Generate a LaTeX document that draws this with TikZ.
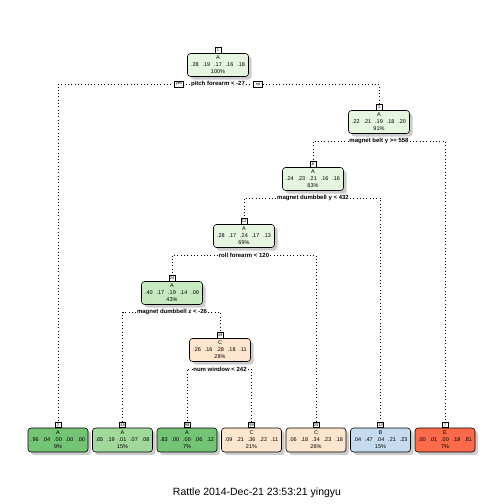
\documentclass[tikz,border=0pt]{standalone}
\usepackage{fontspec}
\setmainfont{Liberation Sans}
\usetikzlibrary{shadows}
\definecolor{greenPale}{HTML}{E5F5E0}
\definecolor{greenLight}{HTML}{C7E9C0}
\definecolor{greenMid}{HTML}{A1D99B}
\definecolor{greenDark}{HTML}{74C476}
\definecolor{peach}{HTML}{FEE6CE}
\definecolor{blueLight}{HTML}{C6DBEF}
\definecolor{redE}{HTML}{FB6A4A}
\newcommand{\probs}[5]{#1\hspace{3.9pt}#2\hspace{3.9pt}#3\hspace{3.9pt}#4\hspace{3.9pt}#5}
\begin{document}
\begin{tikzpicture}
  [x=1pt,y=-1pt,
   split/.style={rectangle,rounded corners=3pt,draw=black,semithick,align=center,
                 minimum width=61pt,minimum height=23pt,inner sep=0pt,
                 font=\fontsize{5.5}{7}\selectfont,
                 drop shadow={shadow xshift=3pt,shadow yshift=-3pt,fill=black!40}},
   leaf/.style={split,minimum width=60pt,minimum height=24pt},
   nodenum/.style={rectangle,draw=black,fill=white,thin,inner sep=0.4pt,
                   minimum width=6pt,minimum height=5.5pt,anchor=south,
                   font=\fontsize{4}{4}\selectfont},
   yesno/.style={nodenum,anchor=center,minimum width=9pt},
   rule/.style={inner sep=1pt,font=\bfseries\fontsize{6}{6}\selectfont},
   branch/.style={line width=0.7pt,dash pattern=on 0.7pt off 2.6pt}]
  \useasboundingbox (0,0) rectangle (504,504);
  % inner nodes
  \node[split,fill=greenPale] (n1) at (218,65) {A\\\probs{.28}{.19}{.17}{.16}{.18}\\100\%};
  \node[split,fill=greenPale] (n3) at (379,122) {A\\\probs{.22}{.21}{.19}{.18}{.20}\\91\%};
  \node[split,fill=greenPale] (n6) at (313,179) {A\\\probs{.24}{.23}{.21}{.16}{.16}\\83\%};
  \node[split,fill=greenPale] (n12) at (244,236) {A\\\probs{.28}{.17}{.24}{.17}{.13}\\69\%};
  \node[split,fill=greenLight] (n24) at (172,293) {A\\\probs{.40}{.17}{.19}{.14}{.09}\\43\%};
  \node[split,fill=peach] (n49) at (220,350) {C\\\probs{.26}{.16}{.28}{.18}{.11}\\28\%};
  % leaves
  \node[leaf,fill=greenDark] (n2) at (58,440) {A\\\probs{.96}{.04}{.00}{.00}{.00}\\9\%};
  \node[leaf,fill=greenMid] (n48) at (122.5,440) {A\\\probs{.65}{.19}{.01}{.07}{.08}\\15\%};
  \node[leaf,fill=greenDark] (n98) at (187,440) {A\\\probs{.83}{.00}{.00}{.06}{.12}\\7\%};
  \node[leaf,fill=peach] (n99) at (251.5,440) {C\\\probs{.09}{.21}{.36}{.22}{.11}\\21\%};
  \node[leaf,fill=peach] (n25) at (316,440) {C\\\probs{.06}{.18}{.34}{.23}{.18}\\26\%};
  \node[leaf,fill=blueLight] (n13) at (380.5,440) {B\\\probs{.04}{.47}{.04}{.21}{.23}\\15\%};
  \node[leaf,fill=redE] (n7) at (445,440) {E\\\probs{.00}{.01}{.00}{.18}{.81}\\7\%};
  % node numbers
  \node[nodenum] (k1) at (n1.north) {1};
  \node[nodenum] (k2) at (n2.north) {2};
  \node[nodenum] (k3) at (n3.north) {3};
  \node[nodenum] (k6) at (n6.north) {6};
  \node[nodenum] (k7) at (n7.north) {7};
  \node[nodenum] (k12) at (n12.north) {12};
  \node[nodenum] (k13) at (n13.north) {13};
  \node[nodenum] (k24) at (n24.north) {24};
  \node[nodenum] (k25) at (n25.north) {25};
  \node[nodenum] (k48) at (n48.north) {48};
  \node[nodenum] (k49) at (n49.north) {49};
  \node[nodenum] (k98) at (n98.north) {98};
  \node[nodenum] (k99) at (n99.north) {99};
  % split rules
  \node[rule] (r1) at (218,84) {pitch forearm < -27};
  \node[yesno] (yes) at (179,84) {yes};
  \node[yesno] (no) at (258,84) {no};
  \node[rule] (r3) at (379,141) {magnet belt y >= 558};
  \node[rule] (r6) at (313,198) {magnet dumbbell y < 432};
  \node[rule] (r12) at (244,255) {roll forearm < 120};
  \node[rule] (r24) at (172,312) {magnet dumbbell z < -26};
  \node[rule] (r49) at (220,369) {num window < 242};
  % branches
  \draw[branch] (r1.west) -- (yes.east);
  \draw[branch] (yes.west) -| (k2.north);
  \draw[branch] (r1.east) -- (no.west);
  \draw[branch] (no.east) -| (k3.north);
  \draw[branch] (r3.west) -| (k6.north);
  \draw[branch] (r3.east) -| (k7.north);
  \draw[branch] (r6.west) -| (k12.north);
  \draw[branch] (r6.east) -| (k13.north);
  \draw[branch] (r12.west) -| (k24.north);
  \draw[branch] (r12.east) -| (k25.north);
  \draw[branch] (r24.west) -| (k48.north);
  \draw[branch] (r24.east) -| (k49.north);
  \draw[branch] (r49.west) -| (k98.north);
  \draw[branch] (r49.east) -| (k99.north);
  \node[font=\fontsize{10.5}{12}\selectfont] (title) at (257,493) {Rattle 2014-Dec-21 23:53:21 yingyu};
\end{tikzpicture}
\end{document}
